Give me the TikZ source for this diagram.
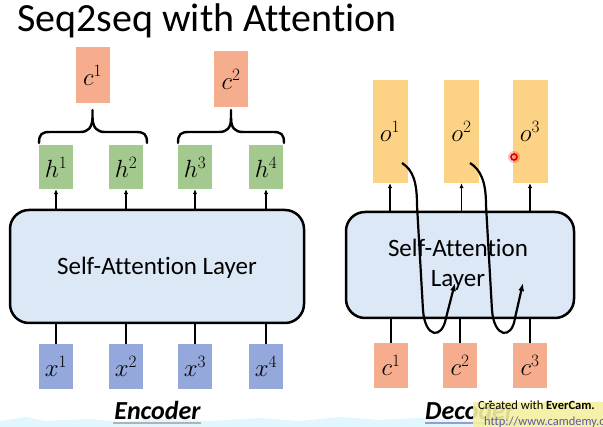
\documentclass[tikz,border=0pt]{standalone}
\usepackage{fontspec}
\setmainfont{Carlito}[Ligatures=NoCommon]
\usetikzlibrary{arrows.meta}
\definecolor{cred}{HTML}{F6AD8E}
\definecolor{hgreen}{HTML}{A3C98F}
\definecolor{xblue}{HTML}{95A8DB}
\definecolor{oyel}{HTML}{FCD385}
\definecolor{layerfill}{HTML}{DCE8F6}
\definecolor{wmark}{HTML}{F4F0A2}
\begin{document}
\begin{tikzpicture}[x=1pt,y=-1pt,
  vecbox/.style={inner sep=0pt, font=\fontsize{27}{30}\selectfont},
  cbox/.style={vecbox, fill=cred, minimum width=34pt, minimum height=56pt},
  cdbox/.style={vecbox, fill=cred, minimum width=34pt, minimum height=45pt},
  hbox/.style={vecbox, fill=hgreen, minimum width=34pt, minimum height=44pt},
  xbox/.style={vecbox, fill=xblue, minimum width=34pt, minimum height=45pt},
  obox/.style={vecbox, fill=oyel, minimum width=35pt, minimum height=103pt},
  layer/.style={draw=black, line width=2.5pt, fill=layerfill, rounded corners=19pt, inner sep=0pt},
  laytext/.style={inner sep=0pt, align=center, font=\fontsize{25}{30}\selectfont},
  arr/.style={line width=1.3pt, -{Latex[length=5pt,width=4.5pt]}},
  plain/.style={line width=1.3pt},
  curv/.style={line width=2.2pt, -{Latex[length=8pt,width=6pt]}},
  brc/.style={line width=2.4pt, line cap=round},
  lbl/.style={font=\fontsize{26}{28}\selectfont\bfseries\itshape, inner sep=0pt}
]
\useasboundingbox (0,0) rectangle (603,427);
\fill[white] (0,0) rectangle (603,427);
% bottom watercolor band
\fill[blue!25!cyan!20, opacity=0.6] (0,427) -- (0,421) -- (25,417) -- (45,421) -- (90,419) -- (120,422) -- (160,419) -- (210,421) -- (260,418) -- (300,421) -- (340,417) -- (380,420) -- (420,418) -- (470,421) -- (520,418) -- (603,420) -- (603,427) -- cycle;

% title
\node[anchor=base west, inner sep=0pt, font=\fontsize{40}{44}\selectfont] (title) at (17,32) {Seq2seq with Attention};

% encoder
\node[layer, minimum width=294pt, minimum height=113pt] (enc) at (157,266.5) {};
\node[laytext, anchor=base] (enctxt) at (157,275) {Self-Attention Layer};
\node[cbox] (ec1) at (92.5,75) {$c^1$};
\node[cbox] (ec2) at (231,79) {$c^2$};
\node[hbox] (h1) at (56,167) {$h^1$};
\node[hbox] (h2) at (126,167) {$h^2$};
\node[hbox] (h3) at (195,167) {$h^3$};
\node[hbox] (h4) at (266,167) {$h^4$};
\node[xbox] (x1) at (56,366.5) {$x^1$};
\node[xbox] (x2) at (126,366.5) {$x^2$};
\node[xbox] (x3) at (195,366.5) {$x^3$};
\node[xbox] (x4) at (266,366.5) {$x^4$};
\foreach \i in {1,2,3,4}{
  \draw[arr] (h\i |- enc.north) -- (h\i.south);
  \draw[plain] (x\i.north) -- (x\i |- enc.south);
}
% braces
\draw[brc] (39,143) .. controls (39,134) and (42,132) .. (50,132) -- (80,132) .. controls (88,132) and (92,128) .. (92.5,118) -- (92.5,110);
\draw[brc] (147,143) .. controls (147,134) and (144,132) .. (136,132) -- (105,132) .. controls (97,132) and (93,128) .. (92.5,118);
\draw[brc] (178,143) .. controls (178,134) and (181,132) .. (189,132) -- (219,132) .. controls (227,132) and (231,128) .. (231,118) -- (231,110);
\draw[brc] (284,143) .. controls (284,134) and (281,132) .. (273,132) -- (243,132) .. controls (235,132) and (231,128) .. (231,118);

\node[lbl] (enclbl) at (157.5,410) {Encoder};
\draw[gray!60, line width=2pt] (113,423) -- (201,423);

% decoder
\node[layer, minimum width=228pt, minimum height=106pt] (dec) at (460,265) {};
\node[laytext, anchor=base] (dectxt1) at (458,257) {Self-Attention};
\node[laytext, anchor=base] (dectxt2) at (458,287) {Layer};
\node[obox] (o1) at (390,131.5) {$o^1$};
\node[obox] (o2) at (461.5,131.5) {$o^2$};
\node[obox] (o3) at (530,131.5) {$o^3$};
\node[cdbox] (dc1) at (391,365.5) {$c^1$};
\node[cdbox] (dc2) at (460,365.5) {$c^2$};
\node[cdbox] (dc3) at (530,365.5) {$c^3$};
\foreach \i in {1,2,3}{
  \draw[arr] (o\i |- dec.north) -- (o\i.south);
  \draw[plain] (dc\i.north) -- (dc\i |- dec.south);
}
\coordinate (s1) at (402,163);
\coordinate (t1) at (455,283);
\coordinate (s2) at (470,163);
\coordinate (t2) at (523,283);
\draw[curv] (s1) .. controls (413,170) and (417,182) .. (417,205) -- (423,310) .. controls (425,338) and (442,340) .. (446,318) -- (t1);
\draw[curv] (s2) .. controls (481,170) and (486,182) .. (486,205) -- (492,310) .. controls (494,338) and (512,340) .. (515,318) -- (t2);

% cursor dot
\fill[red, opacity=0.25] (514,157) circle (6);
\draw[red!85!black, line width=1.6pt] (514,157) circle (3);

\node[lbl, anchor=west] (declbl) at (425,410) {Decoder};
\draw[blue!30!gray!60, line width=2pt] (425,423) -- (520,423);

% watermark
\fill[wmark, opacity=0.9] (473,402) rectangle (603,427);
\node[anchor=base west, inner sep=0pt, font=\fontsize{12.5}{14}\selectfont] (wm1) at (478,410) {Created with \textbf{EverCam.}};
\node[anchor=base west, inner sep=0pt, font=\fontsize{12.5}{14}\selectfont, text=gray!70!blue] (wm2) at (484,426) {http://www.camdemy.com};
\end{tikzpicture}
\end{document}
